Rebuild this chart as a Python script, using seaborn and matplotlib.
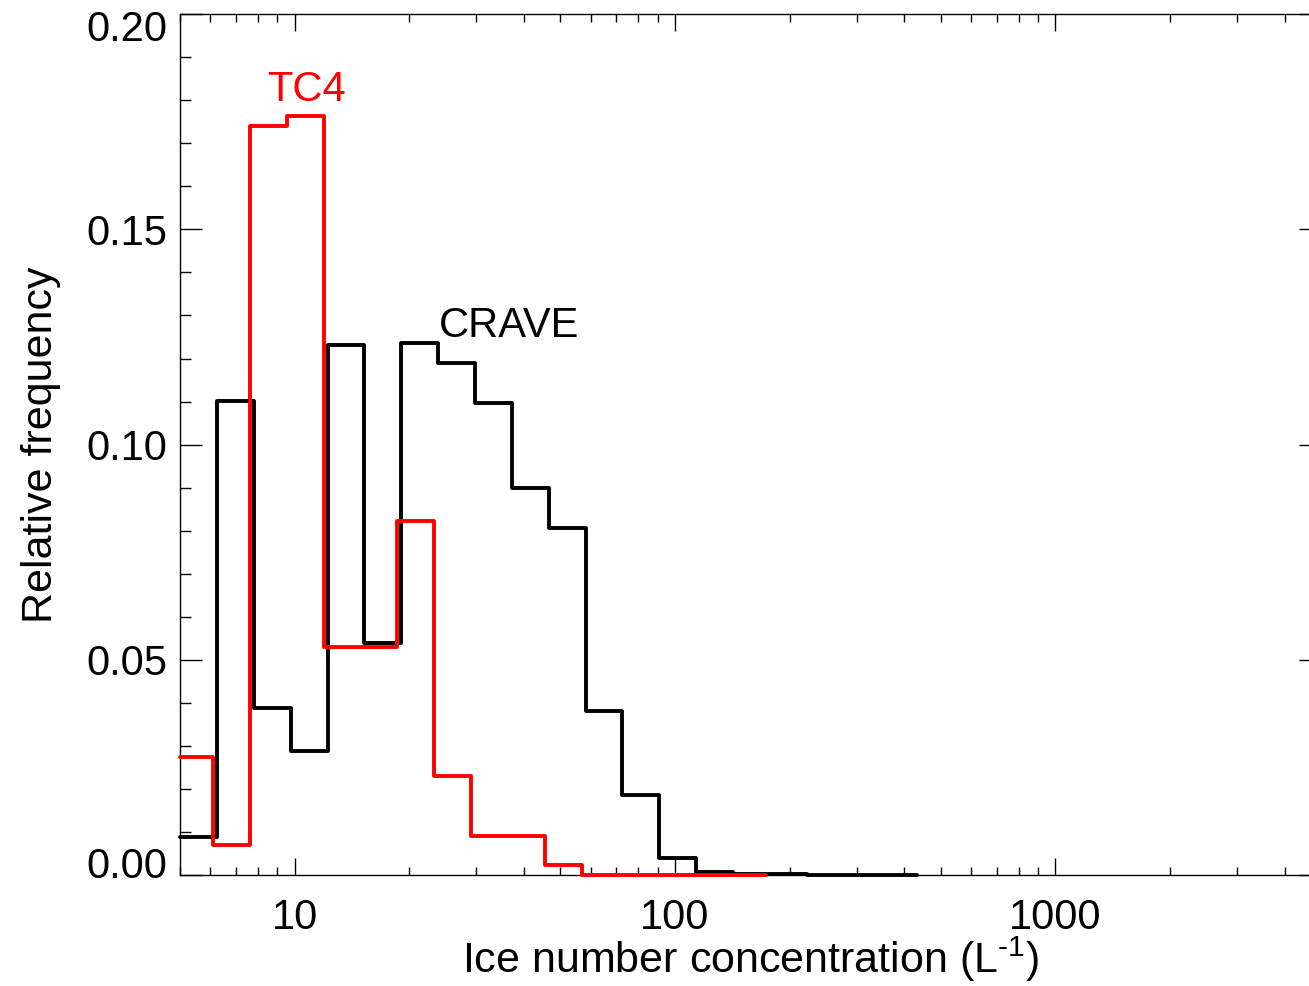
import matplotlib
matplotlib.use("Agg")
import matplotlib.pyplot as plt
from matplotlib.transforms import ScaledTranslation
from matplotlib.ticker import FixedLocator, LogLocator, MultipleLocator, NullFormatter, FuncFormatter, FormatStrFormatter
import pandas as pd
import seaborn as sns

# CRAVE: bin edges (L^-1) and relative frequency of each bin
crave_edges = [5.0, 6.25, 7.81, 9.77, 12.21, 15.26, 19.07, 23.84, 29.80, 37.25,
               46.57, 58.21, 72.76, 90.95, 113.69, 142.11, 177.64, 222.04,
               277.56, 346.94, 433.68]
crave_freq = [0.0090, 0.1101, 0.0388, 0.0289, 0.1232, 0.0539, 0.1237, 0.1189,
              0.1096, 0.0899, 0.0807, 0.0382, 0.0186, 0.0041, 0.0008, 0.0003,
              0.0002, 0.0001, 0.0001, 0.0001]

# TC4: bin edges (L^-1) and relative frequency of each bin
tc4_edges = [5.0, 6.10, 7.63, 9.54, 11.92, 14.90, 18.63, 23.28, 29.10, 36.38,
             45.47, 56.84, 71.05, 88.81, 111.02, 138.77, 173.46]
tc4_freq = [0.0275, 0.0070, 0.1740, 0.1763, 0.0529, 0.0529, 0.0823, 0.0231,
            0.0092, 0.0092, 0.0024, 0.0001, 0.0001, 0.0001, 0.0001, 0.0001]

x_ticks = [10, 100, 1000]
y_ticks = [0.00, 0.05, 0.10, 0.15, 0.20]

sns.set_style("ticks")
plt.rcParams["font.family"] = ["Liberation Sans", "DejaVu Sans"]
plt.rcParams["mathtext.fontset"] = "custom"
plt.rcParams["mathtext.rm"] = "Liberation Sans"
plt.rcParams["mathtext.it"] = "Liberation Sans"
plt.rcParams["axes.linewidth"] = 1.0
for key in ("text.color", "axes.labelcolor", "xtick.color", "ytick.color",
            "axes.edgecolor"):
    plt.rcParams[key] = "black"


def step_frame(edges, freq):
    # repeat the last value so the final bin gets its full width in steps-post mode
    return pd.DataFrame({"conc": edges, "freq": list(freq) + [freq[-1]]})


fig = plt.figure(figsize=(13.09, 9.86), dpi=100)
ax = fig.add_axes([0.1375, 0.1123, 0.872, 0.8735])

sns.lineplot(data=step_frame(crave_edges, crave_freq), x="conc", y="freq",
             drawstyle="steps-post", color="black", linewidth=2.8,
             estimator=None, sort=False, ax=ax, clip_on=False, zorder=3)
sns.lineplot(data=step_frame(tc4_edges, tc4_freq), x="conc", y="freq",
             drawstyle="steps-post", color="#ff0000", linewidth=2.8,
             estimator=None, sort=False, ax=ax, clip_on=False, zorder=4)

ax.set_xscale("log")
ax.set_xlim(5, 5000)
ax.set_ylim(0, 0.2)

ax.xaxis.set_major_locator(FixedLocator(x_ticks))
ax.xaxis.set_major_formatter(FuncFormatter(lambda v, p: f"{v:.0f}"))
ax.xaxis.set_minor_locator(LogLocator(base=10, subs=range(2, 10)))
ax.xaxis.set_minor_formatter(NullFormatter())
ax.yaxis.set_major_locator(FixedLocator(y_ticks))
ax.yaxis.set_major_formatter(FormatStrFormatter("%.2f"))
ax.yaxis.set_minor_locator(MultipleLocator(0.01))

ax.tick_params(which="both", direction="in", top=True, right=True,
               width=1.0, color="black", labelsize=30, labelcolor="black")
ax.tick_params(axis="x", which="major", length=12.2, pad=16.5)
ax.tick_params(axis="x", which="minor", length=6.1)
ax.tick_params(axis="y", which="major", length=16, pad=9.4)
ax.tick_params(axis="y", which="minor", length=8)

# keep the end labels of the y axis inside the plot height
yticks = ax.yaxis.get_major_ticks()
yticks[0].label1.set_transform(
    yticks[0].label1.get_transform() + ScaledTranslation(0, 13 / 100, fig.dpi_scale_trans))
yticks[-1].label1.set_transform(
    yticks[-1].label1.get_transform() + ScaledTranslation(0, -11 / 100, fig.dpi_scale_trans))

for s in ax.spines.values():
    s.set_visible(True)
    s.set_color("black")

ax.set_xlabel(r"Ice number concentration (L$^{\text{-1}}$)", fontsize=31)
ax.set_ylabel("Relative frequency", fontsize=31)
ax.xaxis.set_label_coords(0.5, -0.069)
ax.yaxis.set_label_coords(-0.104, 0.5)

ax.text(8.45, 0.1797, "TC4", color="#ff0000", fontsize=30, ha="left", va="baseline")
ax.text(24.0, 0.1250, "CRAVE", color="black", fontsize=30, ha="left", va="baseline")

fig.savefig("out.png", dpi=100)
